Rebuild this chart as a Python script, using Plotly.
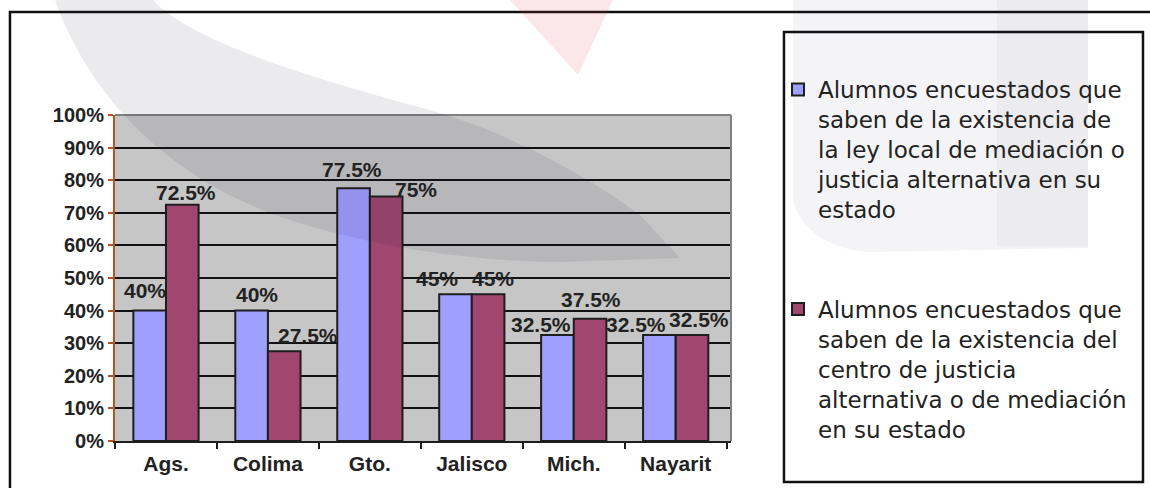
import plotly.graph_objects as go

# Data: percentage of surveyed students per state
estados = ["Ags.", "Colima", "Gto.", "Jalisco", "Mich.", "Nayarit"]
ley_local = [40, 40, 77.5, 45, 32.5, 32.5]
centro_justicia = [72.5, 27.5, 75, 45, 37.5, 32.5]
y_ticks = [0, 10, 20, 30, 40, 50, 60, 70, 80, 90, 100]
y_tick_labels = [f"{v}%" for v in y_ticks]

serie_ley = ("Alumnos encuestados que<br>saben de la existencia de<br>"
             "la ley local de mediación o<br>justicia alternativa en su<br>estado")
serie_centro = ("Alumnos encuestados que<br>saben de la existencia del<br>"
                "centro de justicia<br>alternativa o de mediación<br>en su estado")

# Styling / label placement (pixels)
BLUE = "#9F9FFF"
PLUM = "#A0466F"
EDGE = "#1E1E1E"
BOLD_FONT = "Liberation Sans"
LEGEND_FONT = "DejaVu Sans"
BARGAP = 0.36
label_dx = {"ley": [-5, 5, -2, -18, -16, -23], "centro": [4, 24, 30, 5, 1, 7]}
label_gap = {"ley": [13, 9, 11, 8, 3, 3], "centro": [5, 8, 0, 8, 12, 8]}

W, H = 1150, 488
ML, MR, MT, MB = 115, 419, 115, 47
PW, PH = W - ML - MR, H - MT - MB


def px(x, y):
    """Pixel position on the page -> paper coordinates."""
    return (x - ML) / PW, (H - MB - y) / PH


def path(segments):
    """Build an SVG path in paper units; every segment carries its own command."""
    out = []
    for cmd, pts in segments:
        if cmd in ("M", "L"):
            for p in pts:
                out.append("%s%.4f,%.4f" % ((cmd,) + px(*p)))
        else:
            out.append(cmd + " ".join("%.4f,%.4f" % px(*p) for p in pts))
    return " ".join(out) + " Z"


fig = go.Figure()
fig.add_trace(go.Bar(
    x=estados, y=ley_local, name=serie_ley, legendgroup="ley",
    marker=dict(color=BLUE, line=dict(color=EDGE, width=2)),
))
fig.add_trace(go.Bar(
    x=estados, y=centro_justicia, name=serie_centro, legendgroup="centro",
    marker=dict(color=PLUM, line=dict(color=EDGE, width=2)),
))

# Value labels above each bar
half = (1 - BARGAP) / 4
for key, values, side in (("ley", ley_local, -1), ("centro", centro_justicia, 1)):
    for i, v in enumerate(values):
        fig.add_annotation(
            x=i + side * half, y=v, xref="x", yref="y",
            text=f"{v:g}%", showarrow=False,
            xanchor="center", yanchor="bottom",
            xshift=label_dx[key][i], yshift=label_gap[key][i] - 6,
            font=dict(family=BOLD_FONT, size=21, color="#222222", weight="bold"),
        )

shapes = [
    # outer chart frame
    dict(type="rect", xref="paper", yref="paper", x0=-0.1705, x1=1.75, y0=-0.25, y1=1.316,
         line=dict(color="#111111", width=2.5), fillcolor="rgba(0,0,0,0)", layer="below"),
    # legend frame
    dict(type="rect", xref="paper", yref="paper", x0=1.086, x1=1.6688, y0=-0.1258, y1=1.2546,
         line=dict(color="#111111", width=2.5), fillcolor="white", layer="below"),
    # plot area border (top and right)
    dict(type="line", xref="paper", yref="paper", x0=0, x1=1, y0=1, y1=1,
         line=dict(color="#808080", width=2), layer="above"),
    dict(type="line", xref="paper", yref="paper", x0=1, x1=1, y0=0, y1=1,
         line=dict(color="#808080", width=2), layer="above"),
    # page watermark: grey crescent, pink wedge, grey column
    dict(type="path", xref="paper", yref="paper", layer="above", line=dict(width=0),
         fillcolor="rgba(30,30,55,0.09)",
         path=path([("M", [(55, 0)]),
                    ("C", [(80, 70), (130, 140), (220, 190)]),
                    ("C", [(300, 235), (450, 262), (560, 262)]),
                    ("L", [(680, 258), (640, 215)]),
                    ("C", [(580, 170), (500, 130), (430, 110)]),
                    ("C", [(300, 75), (190, 40), (153, 0)])])),
    dict(type="path", xref="paper", yref="paper", layer="above", line=dict(width=0),
         fillcolor="rgba(225,60,80,0.12)",
         path=path([("M", [(510, 0)]), ("L", [(613, 0), (578, 75)])])),
    dict(type="path", xref="paper", yref="paper", layer="above", line=dict(width=0),
         fillcolor="rgba(40,40,70,0.05)",
         path=path([("M", [(793, 0)]), ("L", [(1088, 0), (1088, 248), (870, 252)]),
                    ("C", [(830, 250), (800, 230), (793, 200)])])),
    dict(type="path", xref="paper", yref="paper", layer="above", line=dict(width=0),
         fillcolor="rgba(40,40,70,0.04)",
         path=path([("M", [(997, 0)]), ("L", [(1088, 0), (1088, 246), (997, 246)])])),
]

fig.update_layout(
    width=W, height=H, autosize=False,
    margin=dict(l=ML, r=MR, t=MT, b=MB, pad=0),
    paper_bgcolor="white", plot_bgcolor="#C6C6C6",
    barmode="group", bargap=BARGAP, bargroupgap=0,
    shapes=shapes,
    showlegend=True,
    legend=dict(
        x=1.0763, y=1.144, xanchor="left", yanchor="top",
        bgcolor="rgba(0,0,0,0)", borderwidth=0, maxheight=470,
        traceorder="grouped", tracegroupgap=67, valign="top",
        font=dict(family=LEGEND_FONT, size=23, color="#222222"),
    ),
    xaxis=dict(
        type="category", showgrid=False,
        showline=True, linecolor="#1E1E1E", linewidth=2,
        ticks="outside", tickson="boundaries", ticklen=6, tickwidth=2, tickcolor="#1E1E1E",
        ticklabelstandoff=3,
        tickfont=dict(family=BOLD_FONT, size=21, color="#222222", weight="bold"),
    ),
    yaxis=dict(
        range=[0, 100], tickvals=y_ticks, ticktext=y_tick_labels,
        showgrid=True, gridcolor="#111111", gridwidth=2,
        zeroline=False,
        showline=True, linecolor="#B5541F", linewidth=2,
        ticks="outside", ticklen=5, tickwidth=2, tickcolor="#B5541F",
        tickfont=dict(family=BOLD_FONT, size=20, color="#222222", weight="bold"),
    ),
)

fig.write_html("out.html")
